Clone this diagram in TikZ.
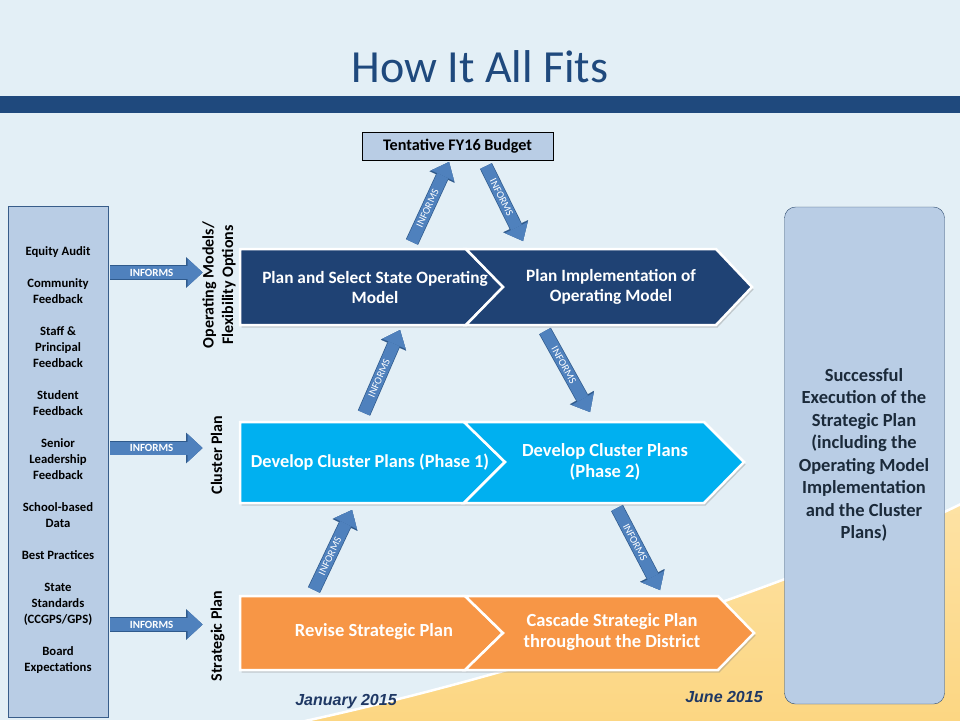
\documentclass[tikz,border=0pt]{standalone}
\usepackage{fontspec}
\setmainfont{Carlito}
\newfontfamily\datefont{Liberation Sans}
\usetikzlibrary{arrows.meta,shadows}
\definecolor{bgblue}{HTML}{E3EFF6}
\definecolor{titleblue}{HTML}{1F497D}
\definecolor{bandblue}{HTML}{1F497D}
\definecolor{navy}{HTML}{1F4274}
\definecolor{cyanb}{HTML}{00B0F0}
\definecolor{orangeb}{HTML}{F79646}
\definecolor{paleblue}{HTML}{B9CDE5}
\definecolor{boxedge}{HTML}{385D8A}
\definecolor{infblue}{HTML}{4F81BD}
\definecolor{infdark}{HTML}{2F5A8C}
\definecolor{sand}{HTML}{FCD682}
\definecolor{sandlight}{HTML}{FDE2A4}
\definecolor{datecol}{HTML}{1F3864}
\definecolor{goaltext}{HTML}{1B2A3A}
\newcommand\setfs[2]{\fontsize{#1}{#2}\selectfont}
\begin{document}
\begin{tikzpicture}[x=1pt,y=-1pt,
  chev/.style={draw=white, line width=2.5pt, line join=miter,
    drop shadow={shadow xshift=1.5pt, shadow yshift=-2.5pt, opacity=0.35}},
  chevtext/.style={text=white, font=\bfseries\setfs{18.5}{20.5}, align=center, inner sep=0pt},
  informs/.style={draw=infblue, line width=12pt,
    -{Triangle[width=25pt,length=15pt,line width=0.01pt]},
    preaction={draw=infdark, line width=13.4pt, -{Triangle[width=27.5pt,length=16.5pt,line width=0.01pt]}}},
  informsh/.style={draw=infblue, line width=13pt,
    -{Triangle[width=28pt,length=15pt,line width=0.01pt]},
    preaction={draw=infdark, line width=14.4pt, -{Triangle[width=30.5pt,length=16.5pt,line width=0.01pt]}}},
  inftext/.style={text=white, font=\setfs{10.5}{11}, sloped, pos=0.42, inner sep=0pt},
  inftexth/.style={text=white, font=\bfseries\setfs{11}{12}, pos=0.45, inner sep=0pt},
  rowlabel/.style={rotate=90, font=\bfseries\setfs{16}{19.5}, align=center, text=black, inner sep=0pt},
  datelabel/.style={font=\datefont\bfseries\itshape\setfs{16}{18}, text=datecol, inner sep=0pt}
]
\useasboundingbox (0,0) rectangle (960,720);
% background
\fill[bgblue] (0,0) rectangle (960,720);
\shade[top color=sandlight, bottom color=sand]
  (305,721) .. controls (480,683) and (760,602) .. (961,504) -- (961,721) -- cycle;
\draw[white, line width=2.5pt] (305,721) .. controls (480,683) and (760,602) .. (961,504);
% title and band
\node[text=titleblue, font=\setfs{46}{50}, inner sep=0pt] (title) at (480,67) {How It All Fits};
\fill[bandblue] (0,96) rectangle (960,113);

% left input box
\node[draw=boxedge, fill=paleblue, minimum width=100pt, minimum height=511pt, inner sep=0pt] (inbox) at (58,461.5) {};
\node[font=\bfseries\setfs{12.7}{16}, align=center, inner sep=0pt] (inputs) at (58,460)
  {Equity Audit\\[16pt]Community\\Feedback\\[16pt]Staff \&\\Principal\\Feedback\\[16pt]Student\\Feedback\\[16pt]Senior\\Leadership\\Feedback\\[16pt]School-based\\Data\\[16pt]Best Practices\\[16pt]State\\Standards\\(CCGPS/GPS)\\[16pt]Board\\Expectations};

% right goal box
\node[draw=boxedge!80!black, fill=paleblue, rounded corners=11pt, minimum width=160pt, minimum height=497pt, inner sep=0pt] (goal) at (864.5,455.5) {};
\node[font=\bfseries\setfs{18.5}{22.5}, text=goaltext, align=center, inner sep=0pt] (goaltxt) at (864,455)
  {Successful\\Execution of the\\Strategic Plan\\(including the\\Operating Model\\Implementation\\and the Cluster\\Plans)};

% budget box
\node[draw=black, fill=paleblue, minimum width=191pt, minimum height=28pt, inner sep=0pt,
  font=\bfseries\setfs{16.2}{17}] (budget) at (457.5,146) {Tentative FY16 Budget};

% row labels
\node[rowlabel] (lab1) at (219,285) {Operating Models/\\Flexibility Options};
\node[rowlabel] (lab2) at (216.5,455) {Cluster Plan};
\node[rowlabel] (lab3) at (217.5,636) {Strategic Plan};

% row 1 chevrons
\path[chev, fill=navy] (240,249) -- (466,249) -- (503,287) -- (466,325) -- (240,325) -- cycle;
\path[chev, fill=navy] (466,249) -- (716,249) -- (752,287) -- (716,325) -- (466,325) -- (503,287) -- cycle;
\node[chevtext, font=\bfseries\setfs{17.3}{20}] (r1a) at (375,287) {Plan and Select State Operating\\Model};
\node[chevtext, font=\bfseries\setfs{17.3}{20}] (r1b) at (611,287) {Plan Implementation of\\Operating Model};
% row 2 chevrons
\path[chev, fill=cyanb] (240,422) -- (464,422) -- (505,462) -- (464,503) -- (240,503) -- cycle;
\path[chev, fill=cyanb] (464,422) -- (704,422) -- (744,462) -- (704,503) -- (464,503) -- (505,462) -- cycle;
\node[chevtext, font=\bfseries\setfs{18.3}{20.5}] (r2a) at (370,462) {Develop Cluster Plans (Phase 1)};
\node[chevtext] (r2b) at (605,462) {Develop Cluster Plans\\(Phase 2)};
% row 3 chevrons
\path[chev, fill=orangeb] (240,596) -- (465,596) -- (503,633) -- (465,670) -- (240,670) -- cycle;
\path[chev, fill=orangeb] (465,596) -- (718,596) -- (754,633) -- (718,670) -- (465,670) -- (503,633) -- cycle;
\node[chevtext] (r3a) at (374,632) {Revise Strategic Plan};
\node[chevtext] (r3b) at (612,632) {Cascade Strategic Plan\\throughout the District};

% dates
\node[datelabel] (jan) at (346,702) {January 2015};
\node[datelabel] (jun) at (724,697) {June 2015};

% connector end points
\coordinate (h1s) at (110,272.5);  \coordinate (h1e) at (202.5,272.5);
\coordinate (h2s) at (110,448);    \coordinate (h2e) at (202.5,448);
\coordinate (h3s) at (110,624.5);  \coordinate (h3e) at (202.5,624.5);
\coordinate (a1s) at (412,242);    \coordinate (a1e) at (449,162);
\coordinate (a2s) at (486,166);    \coordinate (a2e) at (523,241);
\coordinate (a3s) at (364,413);    \coordinate (a3e) at (400,330);
\coordinate (a4s) at (545,331);    \coordinate (a4e) at (590,412);
\coordinate (a5s) at (314,590);    \coordinate (a5e) at (352,510);
\coordinate (a6s) at (617,508);    \coordinate (a6e) at (660,590);

% horizontal INFORMS arrows
\draw[informsh] (h1s) -- node[inftexth] {INFORMS} (h1e);
\draw[informsh] (h2s) -- node[inftexth] {INFORMS} (h2e);
\draw[informsh] (h3s) -- node[inftexth] {INFORMS} (h3e);
% diagonal INFORMS arrows
\draw[informs] (a1s) -- node[inftext] {INFORMS} (a1e);
\draw[informs] (a2s) -- node[inftext] {INFORMS} (a2e);
\draw[informs] (a3s) -- node[inftext] {INFORMS} (a3e);
\draw[informs] (a4s) -- node[inftext] {INFORMS} (a4e);
\draw[informs] (a5s) -- node[inftext] {INFORMS} (a5e);
\draw[informs] (a6s) -- node[inftext] {INFORMS} (a6e);
\end{tikzpicture}
\end{document}
